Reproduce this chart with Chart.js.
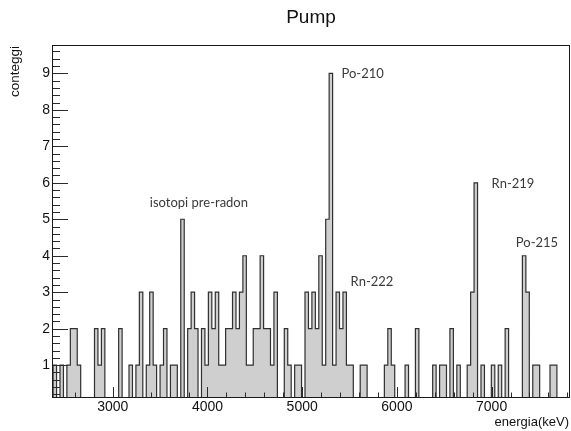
<!DOCTYPE html>
<html><head><meta charset="utf-8">
<script src="https://cdn.jsdelivr.net/npm/chart.js@4.4.1/dist/chart.umd.min.js"></script>
<style>html,body{margin:0;padding:0;background:#fff}#wrap{width:571px;height:431px}</style>
</head><body><div id="wrap"><canvas id="c" width="571" height="431"></canvas></div>
<script>
// ---- data ----
const binStart = 2369.5;      // keV, low edge of first bin
const binWidth = 36.44;       // keV
const counts = [
  1,0,1,0,1,2,2,1,0,0,
  0,0,2,1,2,0,0,0,0,2,
  0,0,1,0,1,3,0,1,3,1,
  0,1,2,0,1,1,0,5,0,2,
  3,2,0,2,1,3,2,3,1,1,
  2,2,3,2,3,4,1,1,2,2,
  4,2,2,1,3,0,0,2,1,0,
  1,1,0,3,2,3,2,4,1,5,
  9,1,3,2,3,1,1,0,0,1,
  1,0,0,0,0,0,1,2,1,0,
  0,0,1,0,0,2,0,0,0,0,
  1,0,1,1,0,2,0,1,0,0,
  1,3,6,0,1,0,0,1,0,1,
  0,2,0,0,0,0,4,3,0,1,
  1,0,0,0,1,1,0,0,0,0
];
const xMajorTicks = [3000, 4000, 5000, 6000, 7000];
const yMajorTicks = [1, 2, 3, 4, 5, 6, 7, 8, 9];
const xMinorTicks = [2400,2600,2800,3200,3400,3600,3800,4200,4400,4600,4800,5200,5400,5600,5800,6200,6400,6600,6800,7200,7400,7600,7800];
const yMinorTicks = [0.2,0.4,0.6,0.8,1.2,1.4,1.6,1.8,2.2,2.4,2.6,2.8,3.2,3.4,3.6,3.8,4.2,4.4,4.6,4.8,5.2,5.4,5.6,5.8,6.2,6.4,6.6,6.8,7.2,7.4,7.6,7.8,8.2,8.4,8.6,8.8,9.2,9.4,9.6];
const peakLabels = ['Po-210', 'isotopi pre-radon', 'Rn-222', 'Rn-219', 'Po-215'];
const peakLabelEnergy = [5415, 3391, 5511, 7000, 7256];
const peakLabelCount = [8.98, 5.44, 3.28, 5.97, 4.35];
const titleText = 'Pump';
const xTitle = 'energia(keV)';
const yTitle = 'conteggi';

// ---- build step points ----
const pts = [{x: binStart, y: 0}];
counts.forEach((c, k) => pts.push({x: binStart + k * binWidth, y: c}));
pts.push({x: binStart + counts.length * binWidth, y: 0});

const rootAxes = {
  id: 'rootAxes',
  afterDatasetsDraw(chart) {
    const {ctx, chartArea: a, scales: {x, y}} = chart;
    ctx.save();
    ctx.strokeStyle = '#2a2a2a';
    ctx.lineWidth = 1;
    ctx.beginPath();
    const tx = (v, len) => { const p = Math.round(x.getPixelForValue(v)) + 0.5; ctx.moveTo(p, a.bottom); ctx.lineTo(p, a.bottom - len); };
    const ty = (v, len) => { const p = Math.round(y.getPixelForValue(v)) + 0.5; ctx.moveTo(a.left, p); ctx.lineTo(a.left + len, p); };
    xMajorTicks.forEach(v => tx(v, 11));
    xMinorTicks.forEach(v => tx(v, 5.5));
    yMajorTicks.forEach(v => ty(v, 16));
    yMinorTicks.forEach(v => ty(v, 8));
    ctx.stroke();
    ctx.strokeStyle = '#1a1a1a';
    ctx.strokeRect(a.left + 0.5, a.top - 0.5, a.right - a.left - 1, a.bottom - a.top);
    ctx.restore();
  },
  afterDraw(chart) {
    const {ctx, chartArea: a, scales: {x, y}} = chart;
    ctx.save();
    ctx.fillStyle = '#111';
    ctx.font = '19px "Liberation Sans", Arial, sans-serif';
    ctx.textAlign = 'center';
    ctx.textBaseline = 'alphabetic';
    ctx.fillText(titleText, (a.left + a.right) / 2, 22.5);
    ctx.font = '13px "Liberation Sans", Arial, sans-serif';
    ctx.textAlign = 'right';
    ctx.textBaseline = 'middle';
    ctx.fillText(xTitle, a.right - 1, 422);
    ctx.save();
    ctx.translate(15, a.top);
    ctx.rotate(-Math.PI / 2);
    ctx.font = '13.5px "Liberation Sans", Arial, sans-serif';
    ctx.textAlign = 'right';
    ctx.fillText(yTitle, 0, 0);
    ctx.restore();
    ctx.font = '13px Lato, "Open Sans", sans-serif';
    ctx.fillStyle = '#3a3a3a';
    ctx.textAlign = 'left';
    ctx.textBaseline = 'middle';
    peakLabels.forEach((t, i) => {
      ctx.fillText(t, x.getPixelForValue(peakLabelEnergy[i]), y.getPixelForValue(peakLabelCount[i]));
    });
    ctx.restore();
  }
};

new Chart(document.getElementById('c'), {
  type: 'line',
  data: {
    datasets: [{
      data: pts,
      stepped: 'before',
      fill: 'origin',
      backgroundColor: '#cfcfcf',
      borderColor: '#303030',
      borderWidth: 1.2,
      pointRadius: 0,
      tension: 0
    }]
  },
  options: {
    responsive: false,
    animation: false,
    devicePixelRatio: 1,
    layout: {padding: {left: 0, right: 1, top: 46, bottom: 0}},
    plugins: {legend: {display: false}, tooltip: {enabled: false}, title: {display: false}},
    scales: {
      x: {
        type: 'linear', min: 2358, max: 7828,
        afterBuildTicks: s => { s.ticks = xMajorTicks.map(v => ({value: v})); },
        afterFit: s => { s.height = 33; },
        grid: {display: false, drawTicks: false},
        border: {display: false},
        ticks: {autoSkip: false, maxRotation: 0, padding: 1, color: '#111',
          font: {family: '"Liberation Sans", Arial, sans-serif', size: 14},
          callback: v => String(v)}
      },
      y: {
        type: 'linear', min: 0.1, max: 9.75,
        afterBuildTicks: s => { s.ticks = yMajorTicks.map(v => ({value: v})); },
        afterFit: s => { s.width = 52; },
        grid: {display: false, drawTicks: false},
        border: {display: false},
        ticks: {autoSkip: false, padding: 2, color: '#111',
          font: {family: '"Liberation Sans", Arial, sans-serif', size: 14},
          callback: v => String(v)}
      }
    }
  },
  plugins: [rootAxes]
});
</script>
</body></html>
